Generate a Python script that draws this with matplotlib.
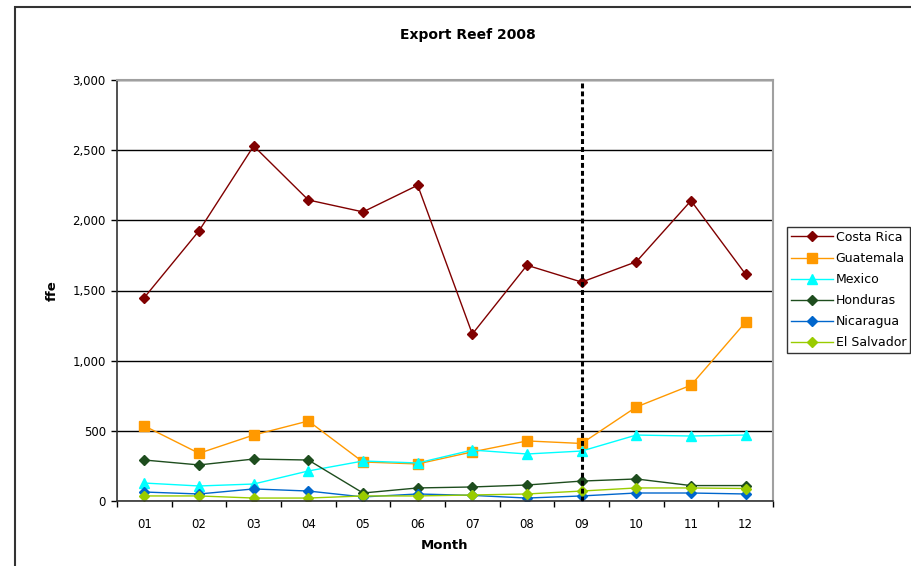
import matplotlib.pyplot as plt
from matplotlib.patches import Rectangle
from matplotlib.ticker import FuncFormatter

plt.rcParams['font.family'] = ['DejaVu Sans']

months = ["01", "02", "03", "04", "05", "06", "07", "08", "09", "10", "11", "12"]
costa_rica = [1450, 1925, 2530, 2145, 2060, 2250, 1190, 1680, 1560, 1705, 2140, 1615]
guatemala = [535, 340, 470, 570, 278, 264, 350, 428, 410, 670, 825, 1275]
mexico = [128, 107, 121, 214, 285, 271, 363, 335, 356, 470, 463, 470]
honduras = [292, 257, 299, 292, 57, 93, 100, 114, 142, 157, 110, 110]
nicaragua = [64, 50, 86, 71, 29, 50, 40, 21, 36, 57, 57, 50]
el_salvador = [36, 36, 21, 21, 36, 36, 43, 50, 71, 93, 93, 89]
cutoff_month = "09"

series = [
    ("Costa Rica", costa_rica, "#800000", "D", 5.5),
    ("Guatemala", guatemala, "#FF9900", "s", 6.5),
    ("Mexico", mexico, "#00FFFF", "^", 7),
    ("Honduras", honduras, "#1E4D1E", "D", 5.5),
    ("Nicaragua", nicaragua, "#0066CC", "D", 5.5),
    ("El Salvador", el_salvador, "#99CC00", "D", 5.5),
]

fig = plt.figure(figsize=(9.11, 5.66), dpi=100)
ax = fig.add_axes([117 / 911, 1 - 501 / 566, 656 / 911, 421 / 566])

x = list(range(len(months)))
for name, vals, color, marker, ms in series:
    ax.plot(x, vals, color=color, marker=marker, markersize=ms, linewidth=1,
            markerfacecolor=color, markeredgecolor=color, label=name)

cx = months.index(cutoff_month)
ax.axvline(cx, ymax=0.995, color="black", linestyle=(0, (1.6, 1.0)),
           linewidth=2.2, zorder=5)

ax.set_xlim(-0.5, len(months) - 0.5)
ax.set_ylim(0, 3000)
ax.set_yticks(range(0, 3001, 500))
ax.yaxis.set_major_formatter(FuncFormatter(lambda v, p: f"{int(v):,}"))
ax.set_xticks(x)
ax.set_xticklabels(months)
ax.set_xticks([i - 0.5 for i in range(len(months) + 1)], minor=True)
ax.tick_params(axis="x", which="major", length=0, pad=12, labelsize=8.5)
ax.tick_params(axis="x", which="minor", length=4, width=1, direction="out")
ax.tick_params(axis="y", length=4, width=1, direction="out", labelsize=8.5, pad=4)
ax.grid(axis="y", color="black", linewidth=1)
ax.set_axisbelow(True)

for side in ("top", "right"):
    ax.spines[side].set_color("#A0A0A0")
    ax.spines[side].set_linewidth(1.5)
for side in ("left", "bottom"):
    ax.spines[side].set_color("#333333")
    ax.spines[side].set_linewidth(1.2)

fig.text(468 / 911, 1 - 35 / 566, "Export Reef 2008", fontsize=10,
         fontweight="bold", ha="center", va="center")
ax.set_xlabel("Month", fontsize=9.5, fontweight="bold", labelpad=6)
ax.set_ylabel("ffe", fontsize=9.5, fontweight="bold", labelpad=10)

leg = fig.legend(loc="upper left", bbox_to_anchor=(787 / 911, 1 - 227 / 566),
                 fontsize=9, frameon=True, fancybox=False, borderpad=0.3,
                 labelspacing=0.65, handlelength=3.4, handletextpad=0.2,
                 borderaxespad=0)
leg.get_frame().set_edgecolor("black")
leg.get_frame().set_linewidth(1)

# outer chart border
fig.patches.append(Rectangle((15 / 911, -0.05), 1.0, 1 - 7 / 566 + 0.05,
                             transform=fig.transFigure, fill=False,
                             edgecolor="#333333", linewidth=1.5))

fig.savefig("out.png", dpi=100)
